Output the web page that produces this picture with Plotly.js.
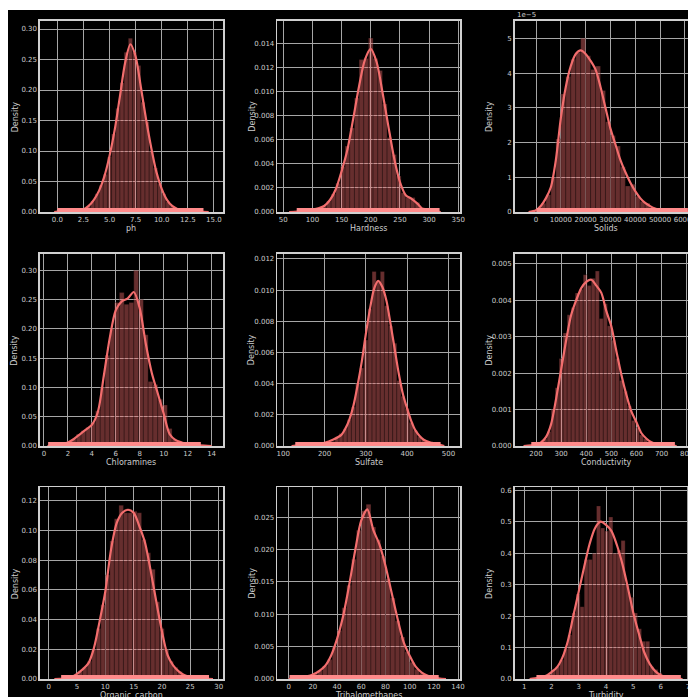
<!DOCTYPE html>
<html><head><meta charset="utf-8">
<script src="https://cdn.plot.ly/plotly-3.0.1.min.js"></script>
<style>
html,body{margin:0;padding:0;background:#fff;overflow:hidden;width:688px;height:697px}
#chart{position:absolute;left:8px;top:10px;width:700px;height:687px}
</style></head>
<body><div id="chart"></div>
<script>
// ---------- data ----------
// ph
const phHistX = [0.2,0.6,1.0,1.4,1.8,2.2,2.6,3.0,3.4,3.8,4.2,4.6,5.0,5.4,5.8,6.2,6.6,7.0,7.4,7.8,8.2,8.6,9.0,9.4,9.8,10.2,10.6,11.0,11.4,11.8,12.2,12.6,13.0,13.4,13.8];
const phHistY = [0.001,0.000,0.001,0.001,0.002,0.003,0.006,0.010,0.018,0.030,0.044,0.062,0.090,0.128,0.170,0.212,0.262,0.285,0.262,0.240,0.180,0.148,0.100,0.072,0.046,0.030,0.017,0.010,0.006,0.004,0.002,0.001,0.001,0.000,0.001];
const phKdeX = [-0.3,0,1,2,2.5,3,3.5,4,4.5,5,5.5,6,6.5,7,7.5,8,8.5,9,9.5,10,10.5,11,11.5,12,13,14.5];
const phKdeY = [0,0.0005,0.001,0.002,0.004,0.010,0.020,0.035,0.058,0.092,0.135,0.190,0.245,0.275,0.255,0.205,0.152,0.105,0.065,0.038,0.020,0.010,0.005,0.003,0.001,0];
const phRug = [0.0,14.0];

// Hardness
const hdHistX = [72,80,88,96,104,112,120,128,136,144,152,160,168,176,184,192,200,208,216,224,232,240,248,256,264,272,280,288,296,304,312,320];
const hdHistY = [0.0001,0.0001,0.0001,0.0001,0.0002,0.0003,0.0005,0.0009,0.0015,0.0024,0.0038,0.0055,0.0070,0.0095,0.0127,0.0128,0.0145,0.0128,0.0118,0.0090,0.0062,0.0048,0.0030,0.0016,0.0012,0.0012,0.0008,0.0004,0.0001,0.0001,0.0001,0.0000];
const hdKdeX = [60,90,110,120,130,140,150,160,170,180,190,200,210,220,230,240,250,260,270,280,290,300,320];
const hdKdeY = [0,0.0001,0.0003,0.0005,0.0010,0.0019,0.0034,0.0052,0.0078,0.0105,0.0127,0.0136,0.0125,0.0100,0.0072,0.0045,0.0025,0.0014,0.0011,0.0007,0.0002,0.0001,0];
const hdRug = [73,318];

// Solids
const soHistX = [1000,3000,5000,7000,9000,11000,13000,15000,17000,19000,21000,23000,25000,27000,29000,31000,33000,35000,37000,39000,41000,43000,45000,47000,49000,51000,53000,55000,57000,59000,61000];
const soHistY = [0.05e-5,0.25e-5,0.5e-5,1.0e-5,2.1e-5,3.4e-5,3.9e-5,4.4e-5,4.6e-5,5.0e-5,4.5e-5,4.1e-5,4.2e-5,3.5e-5,2.6e-5,2.2e-5,1.9e-5,1.3e-5,0.75e-5,0.8e-5,0.45e-5,0.3e-5,0.25e-5,0.12e-5,0.08e-5,0.05e-5,0.04e-5,0.02e-5,0.02e-5,0.01e-5,0.01e-5];
const soKdeX = [-3000,0,2000,4000,6000,8000,10000,12000,14000,16000,18000,20000,22000,24000,26000,28000,30000,32000,34000,36000,38000,40000,42000,44000,46000,48000,50000,54000,58000,62000];
const soKdeY = [0,0.05e-5,0.18e-5,0.4e-5,0.72e-5,1.5e-5,2.7e-5,3.6e-5,4.2e-5,4.55e-5,4.65e-5,4.55e-5,4.35e-5,4.1e-5,3.6e-5,3.0e-5,2.4e-5,1.95e-5,1.5e-5,1.15e-5,0.85e-5,0.6e-5,0.4e-5,0.26e-5,0.17e-5,0.1e-5,0.06e-5,0.03e-5,0.01e-5,0];
const soRug = [320,61227];

// Chloramines
const chHistX = [0.5,0.9,1.3,1.7,2.1,2.5,2.9,3.3,3.7,4.1,4.5,4.9,5.3,5.7,6.1,6.5,6.9,7.3,7.7,8.1,8.5,8.9,9.3,9.7,10.1,10.5,10.9,11.3,11.7,12.1,12.5,12.9];
const chHistY = [0.001,0.001,0.002,0.004,0.008,0.012,0.020,0.026,0.032,0.040,0.060,0.100,0.155,0.200,0.245,0.262,0.242,0.245,0.300,0.250,0.190,0.110,0.105,0.080,0.070,0.030,0.012,0.008,0.005,0.003,0.002,0.001];
const chKdeX = [0.3,1,1.5,2,2.5,3,3.5,4,4.5,5,5.5,6,6.5,7,7.5,8,8.5,9,9.5,10,10.5,11,11.5,12,13,14];
const chKdeY = [0,0.002,0.003,0.006,0.012,0.020,0.028,0.036,0.058,0.120,0.185,0.232,0.247,0.252,0.263,0.235,0.175,0.125,0.090,0.055,0.020,0.010,0.006,0.003,0.001,0];
const chRug = [0.35,13.1];

// Sulfate
const suHistX = [130,140,150,160,170,180,190,200,210,220,230,240,250,260,270,280,290,300,310,320,330,340,350,360,370,380,390,400,410,420,430,440,450,460,470,480];
const suHistY = [0.0001,0,0,0,0,0.0001,0.0001,0.0002,0.0002,0.0003,0.0006,0.0008,0.0011,0.0017,0.0025,0.0040,0.0050,0.0068,0.0088,0.0112,0.0106,0.0112,0.0090,0.0077,0.0066,0.0042,0.0032,0.0024,0.0015,0.0010,0.0006,0.0004,0.0002,0.0001,0.0001,0.0001];
const suKdeX = [120,180,200,220,240,250,260,270,280,290,300,310,320,330,340,350,360,370,380,390,400,410,420,440,460,490];
const suKdeY = [0,0.0001,0.0002,0.0004,0.0007,0.0011,0.0017,0.0026,0.0039,0.0054,0.0072,0.0088,0.0101,0.0106,0.0102,0.0093,0.0078,0.0062,0.0046,0.0033,0.0024,0.0016,0.0010,0.0004,0.0002,0];
const suRug = [129,481];

// Conductivity
const coHistX = [188,204,220,236,252,268,284,300,316,332,348,364,380,396,412,428,444,460,476,492,508,524,540,556,572,588,604,620,636,652,668,684,700,716,732,748];
const coHistY = [0.00003,0.00005,0.0001,0.0002,0.0004,0.0010,0.0016,0.0024,0.0031,0.0036,0.0038,0.0042,0.0043,0.0047,0.0044,0.0046,0.0048,0.0035,0.0039,0.0033,0.0029,0.0024,0.0018,0.0015,0.0011,0.0007,0.0005,0.0003,0.0002,0.0001,0.0001,0.00005,0.00005,0.00003,0.00002,0.00003];
const coKdeX = [150,200,220,240,260,280,300,320,340,360,380,400,420,440,460,480,500,520,540,560,580,600,620,640,660,700,760];
const coKdeY = [0,0.00003,0.0001,0.00025,0.0006,0.0013,0.0021,0.0029,0.0036,0.0040,0.00433,0.0045,0.00456,0.0044,0.0042,0.0037,0.00328,0.0026,0.00195,0.0014,0.00094,0.00065,0.00035,0.0002,0.0001,0.00003,0];
const coRug = [181,753];

// Organic carbon
const ocHistX = [2.4,3.2,4.0,4.8,5.6,6.4,7.2,8.0,8.8,9.6,10.4,11.2,12.0,12.8,13.6,14.4,15.2,16.0,16.8,17.6,18.4,19.2,20.0,20.8,21.6,22.4,23.2,24.0,24.8,25.6,26.4,27.2,28.0];
const ocHistY = [0.0003,0.0003,0.001,0.003,0.005,0.008,0.012,0.020,0.034,0.050,0.070,0.093,0.108,0.117,0.112,0.112,0.113,0.112,0.094,0.085,0.074,0.052,0.034,0.020,0.012,0.008,0.005,0.003,0.002,0.001,0.0005,0.0003,0.0003];
const ocKdeX = [1,2,3,4,5,6,7,8,9,10,11,12,13,14,15,16,17,18,19,20,21,22,23,24,25,26,28,29];
const ocKdeY = [0,0.0001,0.0003,0.0012,0.0035,0.0065,0.0105,0.021,0.039,0.059,0.087,0.105,0.112,0.114,0.112,0.103,0.092,0.073,0.052,0.032,0.016,0.009,0.005,0.0025,0.0012,0.0005,0.0001,0];
const ocRug = [2.2,28.3];

// Trihalomethanes
const thHistX = [2,6,10,14,18,22,26,30,34,38,42,46,50,54,58,62,66,70,74,78,82,86,90,94,98,102,106,110,114,118,122];
const thHistY = [0.0001,0.0001,0.0002,0.0003,0.0005,0.0008,0.0013,0.0020,0.0030,0.0050,0.0075,0.0110,0.0145,0.0185,0.0230,0.0260,0.0270,0.0235,0.0215,0.0190,0.0155,0.0125,0.0090,0.0065,0.0042,0.0026,0.0015,0.0009,0.0005,0.0002,0.0001];
const thKdeX = [0,10,15,20,25,30,35,40,45,50,55,60,65,70,75,80,85,90,95,100,105,110,115,120,130];
const thKdeY = [0,0.0002,0.0004,0.0007,0.0012,0.0020,0.0036,0.0062,0.0097,0.0145,0.0199,0.0245,0.0262,0.0230,0.0208,0.0175,0.0134,0.0093,0.0057,0.0036,0.0019,0.0010,0.0005,0.0002,0];
const thRug = [0.7,124];

// Turbidity
const tuHistX = [1.475,1.625,1.775,1.925,2.075,2.225,2.375,2.525,2.675,2.825,2.975,3.125,3.275,3.425,3.575,3.725,3.875,4.025,4.175,4.325,4.475,4.625,4.775,4.925,5.075,5.225,5.375,5.525,5.675,5.825,5.975,6.125,6.275,6.425,6.575,6.725];
const tuHistY = [0.004,0.006,0.010,0.016,0.030,0.040,0.060,0.095,0.140,0.210,0.270,0.230,0.380,0.380,0.400,0.550,0.480,0.470,0.515,0.400,0.410,0.440,0.300,0.260,0.210,0.160,0.120,0.120,0.040,0.030,0.020,0.010,0.006,0.004,0.003,0.002];
const tuKdeX = [1.2,1.5,1.8,2.0,2.2,2.4,2.6,2.8,3.0,3.2,3.4,3.6,3.8,4.0,4.2,4.4,4.6,4.8,5.0,5.2,5.4,5.6,5.8,6.0,6.3,6.8];
const tuKdeY = [0,0.004,0.010,0.022,0.037,0.068,0.120,0.200,0.278,0.357,0.430,0.480,0.500,0.490,0.470,0.425,0.365,0.290,0.210,0.145,0.085,0.048,0.025,0.012,0.004,0];
const tuRug = [1.45,6.74];

// ---------- panels ----------
const panels = [
 {name:'ph', hx:phHistX, hy:phHistY, w:0.4, kx:phKdeX, ky:phKdeY, rug:phRug,
  xr:[-1.66,15.87], yr:[0,0.3136], xt:[0,2.5,5,7.5,10,12.5,15], xtt:['0.0','2.5','5.0','7.5','10.0','12.5','15.0'],
  yt:[0,0.05,0.10,0.15,0.20,0.25,0.30], ytt:['0.00','0.05','0.10','0.15','0.20','0.25','0.30']},
 {name:'Hardness', hx:hdHistX, hy:hdHistY, w:8, kx:hdKdeX, ky:hdKdeY, rug:hdRug,
  xr:[39.7,353], yr:[0,0.01594], xt:[50,100,150,200,250,300,350], xtt:['50','100','150','200','250','300','350'],
  yt:[0,0.002,0.004,0.006,0.008,0.010,0.012,0.014], ytt:['0.000','0.002','0.004','0.006','0.008','0.010','0.012','0.014']},
 {name:'Solids', hx:soHistX, hy:soHistY, w:2000, kx:soKdeX, ky:soKdeY, rug:soRug,
  xr:[-8600,65100], yr:[0,5.507e-5], xt:[0,10000,20000,30000,40000,50000,60000], xtt:['0','10000','20000','30000','40000','50000','60000'],
  yt:[0,1e-5,2e-5,3e-5,4e-5,5e-5], ytt:['0','1','2','3','4','5'], offset:'1e\u22125'},
 {name:'Chloramines', hx:chHistX, hy:chHistY, w:0.4, kx:chKdeX, ky:chKdeY, rug:chRug,
  xr:[-0.33,14.95], yr:[0,0.3284], xt:[0,2,4,6,8,10,12,14], xtt:['0','2','4','6','8','10','12','14'],
  yt:[0,0.05,0.10,0.15,0.20,0.25,0.30], ytt:['0.00','0.05','0.10','0.15','0.20','0.25','0.30']},
 {name:'Sulfate', hx:suHistX, hy:suHistY, w:10, kx:suKdeX, ky:suKdeY, rug:suRug,
  xr:[85.5,528], yr:[0,0.01234], xt:[100,200,300,400,500], xtt:['100','200','300','400','500'],
  yt:[0,0.002,0.004,0.006,0.008,0.010,0.012], ytt:['0.000','0.002','0.004','0.006','0.008','0.010','0.012']},
 {name:'Conductivity', hx:coHistX, hy:coHistY, w:16, kx:coKdeX, ky:coKdeY, rug:coRug,
  xr:[115,843], yr:[0,0.005275], xt:[200,300,400,500,600,700,800], xtt:['200','300','400','500','600','700','800'],
  yt:[0,0.001,0.002,0.003,0.004,0.005], ytt:['0.000','0.001','0.002','0.003','0.004','0.005']},
 {name:'Organic_carbon', hx:ocHistX, hy:ocHistY, w:0.8, kx:ocKdeX, ky:ocKdeY, rug:ocRug,
  xr:[-1.53,30.77], yr:[0,0.129], xt:[0,5,10,15,20,25,30], xtt:['0','5','10','15','20','25','30'],
  yt:[0,0.02,0.04,0.06,0.08,0.10,0.12], ytt:['0.00','0.02','0.04','0.06','0.08','0.10','0.12']},
 {name:'Trihalomethanes', hx:thHistX, hy:thHistY, w:4, kx:thKdeX, ky:thKdeY, rug:thRug,
  xr:[-9.4,141.6], yr:[0,0.02959], xt:[0,20,40,60,80,100,120,140], xtt:['0','20','40','60','80','100','120','140'],
  yt:[0,0.005,0.010,0.015,0.020,0.025], ytt:['0.000','0.005','0.010','0.015','0.020','0.025']},
 {name:'Turbidity', hx:tuHistX, hy:tuHistY, w:0.15, kx:tuKdeX, ky:tuKdeY, rug:tuRug,
  xr:[0.654,7.35], yr:[0,0.6086], xt:[1,2,3,4,5,6,7], xtt:['1','2','3','4','5','6','7'],
  yt:[0,0.1,0.2,0.3,0.4,0.5,0.6], ytt:['0.0','0.1','0.2','0.3','0.4','0.5','0.6']}
];

const colDom = [[0.04571,0.30714],[0.38471,0.64571],[0.72386,0.985]];
const rowDom = [[0.70597,0.98442],[0.36536,0.64527],[0.02620,0.30495]];

const LINE = '#f26d6d';
const FILL = 'rgba(242,109,109,0.42)';
const RUG = '#ff8a8a';
const GRID = '#a6a6a6';
const FRAME = '#d0d0d0';
const TXT = '#cccccc';
const FONT = 'DejaVu Sans, sans-serif';

const traces = [];
const layout = {
  width:700, height:687, paper_bgcolor:'#000', plot_bgcolor:'#000',
  margin:{l:0,r:0,t:0,b:0}, showlegend:false, bargap:0,
  font:{family:FONT, color:TXT, size:7},
  annotations:[]
};

panels.forEach((p,i)=>{
  const n = i+1;
  const xa = 'x'+(n===1?'':n), ya = 'y'+(n===1?'':n);
  const xk = 'xaxis'+(n===1?'':n), yk = 'yaxis'+(n===1?'':n);
  traces.push({type:'bar', x:p.hx, y:p.hy, width:p.w, xaxis:xa, yaxis:ya,
    marker:{color:FILL, line:{color:'rgba(0,0,0,0.8)', width:0.35}}, hoverinfo:'skip'});
  traces.push({type:'scatter', mode:'lines', x:p.kx, y:p.ky, xaxis:xa, yaxis:ya,
    line:{color:LINE, width:2.2, shape:'spline', smoothing:0.8}, hoverinfo:'skip'});
  traces.push({type:'scatter', mode:'lines', x:p.rug, y:[0,0], xaxis:xa, yaxis:ya,
    line:{color:RUG, width:8}, hoverinfo:'skip', cliponaxis:true});
  const col = i%3, row = Math.floor(i/3);
  layout[xk] = {domain:colDom[col], anchor:ya, range:p.xr, tickvals:p.xt, ticktext:p.xtt,
    showgrid:true, gridcolor:GRID, gridwidth:1, zeroline:false,
    showline:true, mirror:true, linecolor:FRAME, linewidth:1.6,
    ticks:'', tickfont:{size:7, color:TXT, family:FONT}};
  layout[yk] = {domain:rowDom[row], anchor:xa, range:p.yr, tickvals:p.yt, ticktext:p.ytt,
    showgrid:true, gridcolor:GRID, gridwidth:1, zeroline:false,
    showline:true, mirror:true, linecolor:FRAME, linewidth:1.6,
    ticks:'', tickfont:{size:7, color:TXT, family:FONT}};
  layout.annotations.push({xref:xa+' domain', yref:ya+' domain', x:0.5, y:0, yshift:-16.5,
    xanchor:'center', yanchor:'middle', showarrow:false, text:p.name,
    font:{size:8, color:TXT, family:FONT}});
  layout.annotations.push({xref:xa+' domain', yref:ya+' domain', x:0, y:0.5, xshift:-25,
    xanchor:'center', yanchor:'middle', showarrow:false, text:'Density', textangle:-90,
    font:{size:8, color:TXT, family:FONT}});
  if (p.offset) {
    layout.annotations.push({xref:xa+' domain', yref:ya+' domain', x:0, y:1, yshift:0,
      xanchor:'left', yanchor:'bottom', showarrow:false, text:p.offset,
      font:{size:7, color:TXT, family:FONT}});
  }
});

Plotly.newPlot('chart', traces, layout, {displayModeBar:false, staticPlot:true});
</script>
</body></html>
